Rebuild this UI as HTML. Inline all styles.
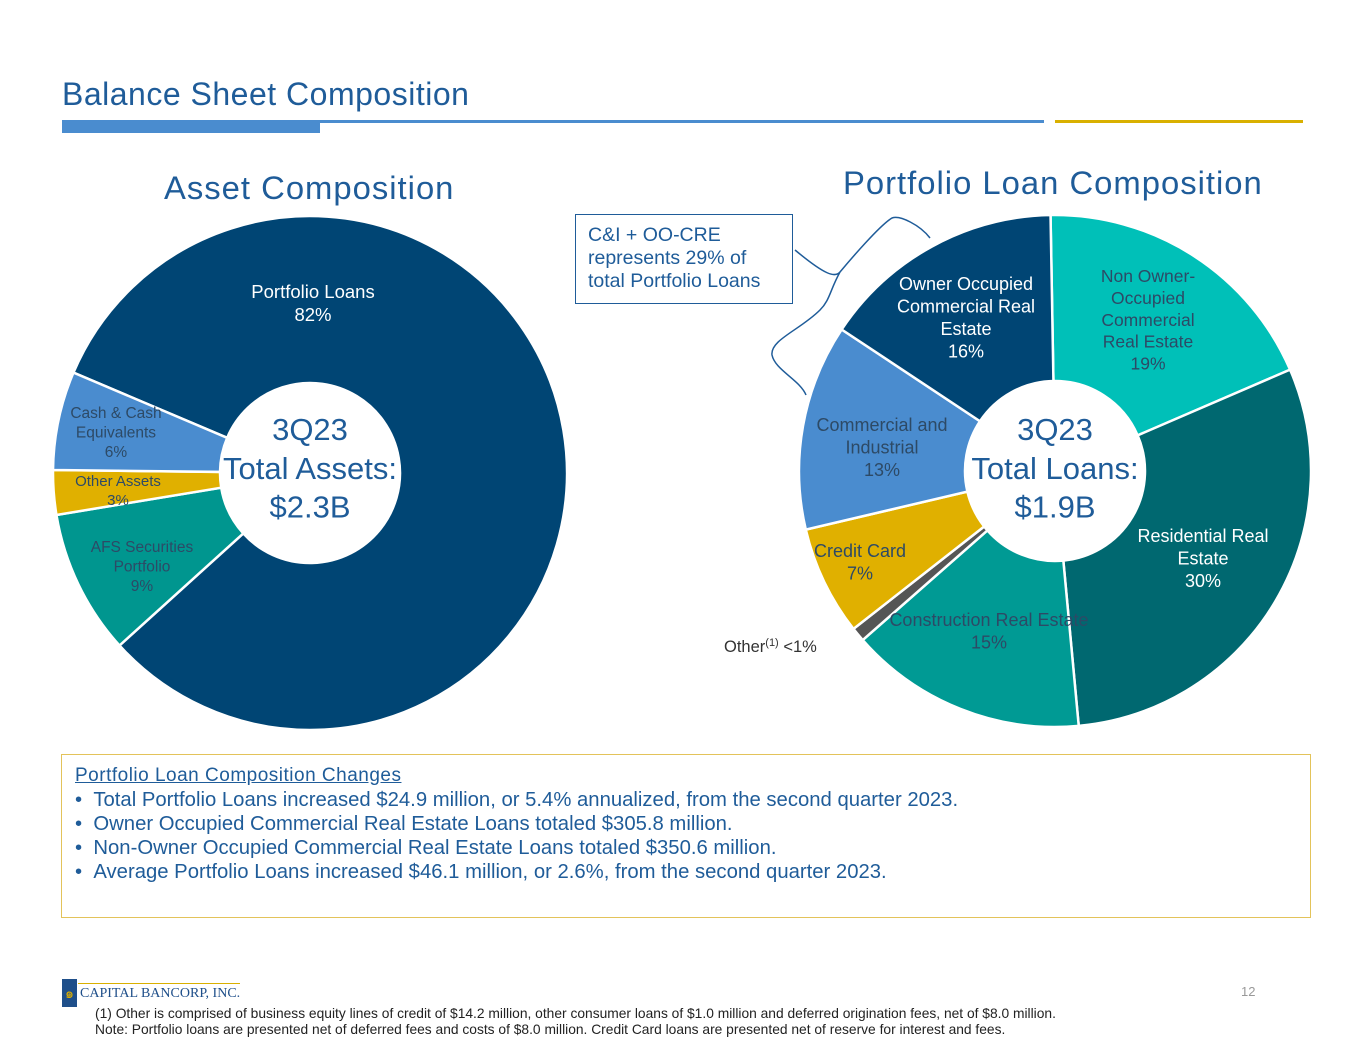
<!DOCTYPE html>
<html><head><meta charset="utf-8"><style>
body{margin:0;width:1365px;height:1055px;background:#fff;font-family:"Liberation Sans",sans-serif;position:relative;overflow:hidden}
.abs{position:absolute}
</style></head><body>
<div class="abs" style="left:62px;top:76px;font-size:32px;color:#1f5c99;letter-spacing:0.5px">Balance Sheet Composition</div>
<div class="abs" style="left:62px;top:121px;width:258px;height:12px;background:#4a8ccf"></div>
<div class="abs" style="left:62px;top:120px;width:982px;height:3px;background:#4a8ccf"></div>
<div class="abs" style="left:1055px;top:120px;width:248px;height:3px;background:#d9b000"></div>
<div class="abs" style="left:164px;top:169px;font-size:32.8px;color:#1f5c99;letter-spacing:1px">Asset Composition</div>
<div class="abs" style="left:843px;top:164px;font-size:32.8px;color:#1f5c99;letter-spacing:1px">Portfolio Loan Composition</div>
<div class="abs" style="left:575px;top:214px;width:218px;height:90px;border:1.5px solid #1f5c99;padding:9px 25px 0 12px;box-sizing:border-box;font-size:19.5px;line-height:23px;color:#1f5c99">C&amp;I + OO-CRE represents 29% of total Portfolio Loans</div>
<svg id="chart" class="abs" style="left:0;top:0" width="1365" height="1055">
<path d="M930,238 C920,225 900,215 892,218 C880,225 850,260 840,272 C835,278 825,275 795,250 M840,272 C830,290 830,300 820,310 C800,330 770,340 772,355 C775,370 800,380 806,395" fill="none" stroke="#1f5c99" stroke-width="1.5"/>
</svg>
<div class="abs" style="left:61px;top:754px;width:1250px;height:164px;border:1.5px solid #e3c35a;box-sizing:border-box;padding:9px 0 0 13px;color:#1f5c99;font-size:20.3px;line-height:24px">
<div style="text-decoration:underline;letter-spacing:0.5px;font-size:19px">Portfolio Loan Composition Changes</div>
<div>•&nbsp;&nbsp;Total Portfolio Loans increased $24.9 million, or 5.4% annualized, from the second quarter 2023.</div>
<div>•&nbsp;&nbsp;Owner Occupied Commercial Real Estate Loans totaled $305.8 million.</div>
<div>•&nbsp;&nbsp;Non-Owner Occupied Commercial Real Estate Loans totaled $350.6 million.</div>
<div>•&nbsp;&nbsp;Average Portfolio Loans increased $46.1 million, or 2.6%, from the second quarter 2023.</div>
</div>
<div class="abs" style="left:62px;top:979px;width:15px;height:28px;background:#1f4f8a;color:#e0b000;font-size:14px;text-align:center;line-height:28px">๑</div>
<div class="abs" style="left:78px;top:983px;width:162px;height:1px;background:#d9b000"></div>
<div class="abs" style="left:80px;top:986px;font-family:'Liberation Serif',serif;font-size:14px;color:#1f4f8a">CAPITAL BANCORP, INC.</div>
<div class="abs" style="left:1241px;top:984px;font-size:13px;color:#999">12</div>
<div class="abs" style="left:95px;top:1006px;font-size:13.8px;line-height:16px;color:#222;white-space:nowrap">(1) Other is comprised of business equity lines of credit of $14.2 million, other consumer loans of $1.0 million and deferred origination fees, net of $8.0 million.<br>Note: Portfolio loans are presented net of deferred fees and costs of $8.0 million. Credit Card loans are presented net of reserve for interest and fees.</div>
<script>
const assetCategories=["Portfolio Loans","AFS Securities Portfolio","Other Assets","Cash & Cash Equivalents"];
const assetValues=[81.9,9.1,2.8,6.2];
const assetLabels=["82%","9%","3%","6%"];
const loanCategories=["Non Owner-Occupied Commercial Real Estate","Residential Real Estate","Construction Real Estate","Other","Credit Card","Commercial and Industrial","Owner Occupied Commercial Real Estate"];
const loanValues=[18.8,30.0,15.0,0.9,6.9,13.0,15.4];
const loanLabels=["19%","30%","15%","<1%","7%","13%","16%"];
const NS="http://www.w3.org/2000/svg";
const svg=document.getElementById('chart');
function pt(cx,cy,r,a){const t=a*Math.PI/180;return [cx+r*Math.sin(t),cy-r*Math.cos(t)];}
function donut(cx,cy,R,r,vals,start,colors,prefix){
  const tot=vals.reduce((a,b)=>a+b,0);let a=start;
  vals.forEach((v,i)=>{const a2=a+v/tot*360;const p1=pt(cx,cy,R,a),p2=pt(cx,cy,R,a2),p3=pt(cx,cy,r,a2),p4=pt(cx,cy,r,a);
    const lg=(a2-a)>180?1:0;
    const p=document.createElementNS(NS,'path');
    p.setAttribute('d',`M${p1}A${R},${R} 0 ${lg} 1 ${p2}L${p3}A${r},${r} 0 ${lg} 0 ${p4}Z`);
    p.setAttribute('fill',colors[i]);p.setAttribute('stroke','#fff');p.setAttribute('stroke-width','2.5');
    
    
    svg.appendChild(p);a=a2;});
}
donut(310,473,257,90,assetValues,293,["#004574","#00968f","#e0b000","#4a8ccf"],'asset');
donut(1055,471,256,90,loanValues,-1,["#00c0b8","#006870","#009a94","#555","#e0b000","#4a8ccf","#004574"],'loan');
function txt(x,y,lines,size,color,fam,name){
  const t=document.createElementNS(NS,'text');t.setAttribute('x',x);t.setAttribute('y',y);t.setAttribute('text-anchor','middle');
  t.setAttribute('font-size',size);t.setAttribute('fill',color);t.setAttribute('font-family',fam||'Liberation Sans, sans-serif');
  
  
  lines.forEach((l,i)=>{const s=document.createElementNS(NS,'tspan');s.setAttribute('x',x);s.setAttribute('dy',i?size*1.25:0);s.textContent=l;t.appendChild(s);});
  svg.appendChild(t);return t;}
const dk="#2d4a66";
txt(313,298,["Portfolio Loans",assetLabels[0]],18.5,"#fff",null,'label-portfolio-loans');
txt(116,418,["Cash & Cash","Equivalents",assetLabels[3]],15.5,dk,null,'label-cash');
txt(118,486,["Other Assets",assetLabels[2]],15,dk,null,'label-other-assets');
txt(142,552,["AFS Securities","Portfolio",assetLabels[1]],15.5,dk,null,'label-afs');
txt(310,440,["3Q23","Total Assets:","$2.3B"],31,"#1f5c99",null,'asset-center-label');
txt(1055,440,["3Q23","Total Loans:","$1.9B"],31,"#1f5c99",null,'loan-center-label');
txt(1148,282,["Non Owner-","Occupied","Commercial","Real Estate",loanLabels[0]],17.5,dk,null,'label-non-owner');
txt(1203,542,["Residential Real","Estate",loanLabels[1]],18,"#fff",null,'label-residential');
txt(989,626,["Construction Real Estate",loanLabels[2]],18,dk,null,'label-construction');
txt(860,557,["Credit Card",loanLabels[4]],18,dk,null,'label-credit-card');
txt(882,431,["Commercial and","Industrial",loanLabels[5]],18,dk,null,'label-ci');
txt(966,290,["Owner Occupied","Commercial Real","Estate",loanLabels[6]],18,"#fff",null,'label-owner-occupied');
const ot=document.createElementNS(NS,'text');
ot.setAttribute('x',724);ot.setAttribute('y',652);ot.setAttribute('font-size',16.5);ot.setAttribute('fill','#333');


ot.innerHTML='Other<tspan dy="-6" font-size="11">(1)</tspan><tspan dy="6"> '+loanLabels[3].replace('<','&lt;')+'</tspan>';
svg.appendChild(ot);
</script>
</body></html>
